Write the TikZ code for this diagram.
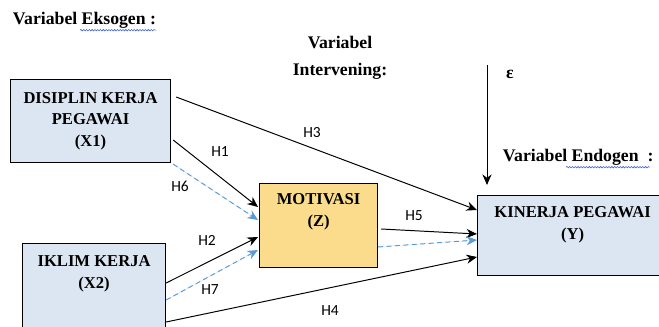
\documentclass[tikz,border=0pt]{standalone}
\usepackage{fontspec}
\setmainfont{Liberation Serif}
\newfontfamily\hypfont{Carlito}
\usepackage{tikz}
\usetikzlibrary{arrows,arrows.meta,positioning,decorations.pathmorphing}
\definecolor{boxblue}{HTML}{DCE6F2}
\definecolor{boxgold}{HTML}{FADC8C}
\definecolor{dashblue}{HTML}{5B9BD5}
\definecolor{spellblue}{HTML}{3A5FCD}
\tikzstyle{varbox}=[draw=black, line width=0.8pt, anchor=north west, inner sep=0pt]
\tikzstyle{boxtext}=[font=\rmfamily\bfseries\fontsize{11.8}{15.5}\selectfont, align=center]
\tikzstyle{head}=[font=\rmfamily\bfseries\fontsize{12.6}{19}\selectfont, align=center]
\tikzstyle{hyp}=[font=\hypfont\fontsize{11}{13}\selectfont]
\tikzstyle{arrow}=[line width=0.7pt,->,>={Stealth[length=7.5pt,width=6.5pt]},draw=black]
\tikzstyle{mediated}=[line width=0.7pt,->,>={Stealth[length=7.5pt,width=6.5pt]},draw=dashblue,fill=dashblue,dash pattern=on 3.5pt off 2.5pt]
\tikzstyle{squiggle}=[spellblue, line width=0.4pt, decorate, decoration={snake, amplitude=0.5pt, segment length=2pt}]

\begin{document}
\begin{tikzpicture}[x=0.025cm,y=-0.025cm]
    \useasboundingbox (0,0) rectangle (659,327);
    \clip (0,0) rectangle (659,327);

    % headings
    \node (eksogen) [head, anchor=west] at (8,20) {Variabel Eksogen :};
    \node (intervening) [head] at (340,58) {Variabel\\Intervening:};
    \node (eps) [head] at (510,74) {ε};
    \node (endogen) [head, anchor=west] at (498,157) {Variabel Endogen\ \ :};
    \draw[squiggle] ([shift={(72,6)}]eksogen.base west) -- ([shift={(148,6)}]eksogen.base west);
    \draw[squiggle] ([shift={(68,6)}]endogen.base west) -- ([shift={(152,6)}]endogen.base west);

    % variables
    \node (x1) [varbox, fill=boxblue, minimum width=4cm, minimum height=2.075cm, boxtext] at (10,79) {DISIPLIN KERJA\\PEGAWAI\\(X1)};
    \node (z) [varbox, fill=boxgold, minimum width=2.95cm, minimum height=2.1cm] at (259,183) {};
    \node (ztext) [boxtext, below=4pt of z.north] {MOTIVASI\\(Z)};
    \node (y) [varbox, fill=boxblue, minimum width=4.75cm, minimum height=2cm] at (477,195) {};
    \node (ytext) [boxtext, below=5pt of y.north] {KINERJA PEGAWAI\\(Y)};
    \node (x2) [varbox, fill=boxblue, minimum width=3.575cm, minimum height=2.5cm] at (22,243) {};
    \node (x2text) [boxtext, below=5.5pt of x2.north] {IKLIM KERJA\\(X2)};

    % error term
    \coordinate (epstop) at (487,65);
    \draw[arrow] (epstop) -- ([shift={(10,-10)}]y.north west);

    % paths
    \draw[arrow] ([shift={(5,18)}]x1.north east) -- ([shift={(0,15)}]y.north west);
    \draw[arrow] ([shift={(2,61)}]x1.north east) -- ([shift={(-1,24)}]z.north west);
    \draw[mediated] ([shift={(2,1)}]x1.south east) -- ([shift={(-1,37)}]z.north west);
    \draw[arrow] ([shift={(0,40)}]x2.north east) -- ([shift={(-1,54)}]z.north west);
    \draw[mediated] ([shift={(0,57)}]x2.north east) -- ([shift={(-1,67)}]z.north west);
    \draw[arrow] ([shift={(0,79)}]x2.north east) -- ([shift={(0,62)}]y.north west);
    \draw[arrow] ([shift={(3,46)}]z.north east) -- ([shift={(0,39)}]y.north west);
    \draw[mediated] ([shift={(0,64)}]z.north east) -- ([shift={(0,45)}]y.north west);

    % hypotheses
    \node (h1) [hyp] at (220,152) {H1};
    \node (h2) [hyp] at (207,240) {H2};
    \node (h3) [hyp] at (312,133) {H3};
    \node (h4) [hyp] at (330,311) {H4};
    \node (h5) [hyp] at (414,216) {H5};
    \node (h6) [hyp] at (180,186) {H6};
    \node (h7) [hyp] at (210,290) {H7};
\end{tikzpicture}
\end{document}
